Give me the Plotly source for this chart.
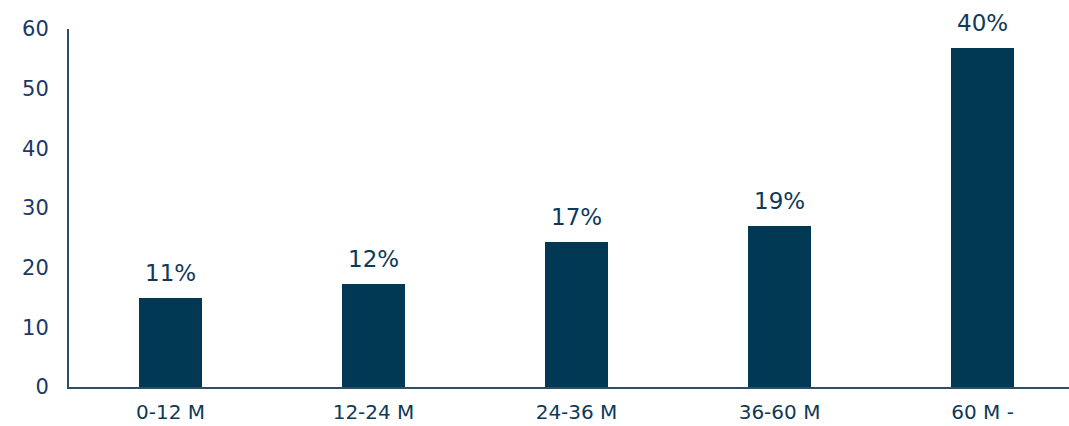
import plotly.graph_objects as go

# Holding-period buckets and their amounts
categories = ["0-12 M", "12-24 M", "24-36 M", "36-60 M", "60 M -"]
values = [15.0, 17.3, 24.3, 27.0, 56.8]
y_ticks = [0, 10, 20, 30, 40, 50, 60]

total = sum(values)
share_labels = [f"{round(v / total * 100)}%" for v in values]

BAR = "#013853"
TEXT = "#0e3a57"
TICK = "#1b3868"
AXIS = "#2e4e68"
FONT = "DejaVu Sans"

fig = go.Figure()
fig.add_trace(go.Bar(
    x=categories,
    y=values,
    width=0.315,
    marker=dict(color=BAR, line=dict(width=0)),
    hoverinfo="skip",
))

for cat, val, lab in zip(categories, values, share_labels):
    fig.add_annotation(
        x=cat, y=val, text=lab, showarrow=False,
        yanchor="bottom", yshift=10,
        font=dict(family=FONT, size=23, color=TEXT),
    )

fig.update_layout(
    width=1069, height=426,
    margin=dict(l=69, r=0, t=29, b=39),
    paper_bgcolor="white", plot_bgcolor="white",
    showlegend=False, bargap=0,
    font=dict(family=FONT),
)
fig.update_xaxes(
    range=[-0.5, 4.426], automargin=False,
    showline=True, linecolor=AXIS, linewidth=2,
    showgrid=False, ticks="",
    ticklabelstandoff=6,
    tickfont=dict(family=FONT, size=20, color=TEXT),
)
fig.update_yaxes(
    range=[0, 60], tickvals=y_ticks, automargin=False,
    showline=True, linecolor=AXIS, linewidth=2,
    showgrid=False, zeroline=False, ticks="",
    ticklabelstandoff=14,
    tickfont=dict(family=FONT, size=21, color=TICK),
)

fig.write_html("out.html")
